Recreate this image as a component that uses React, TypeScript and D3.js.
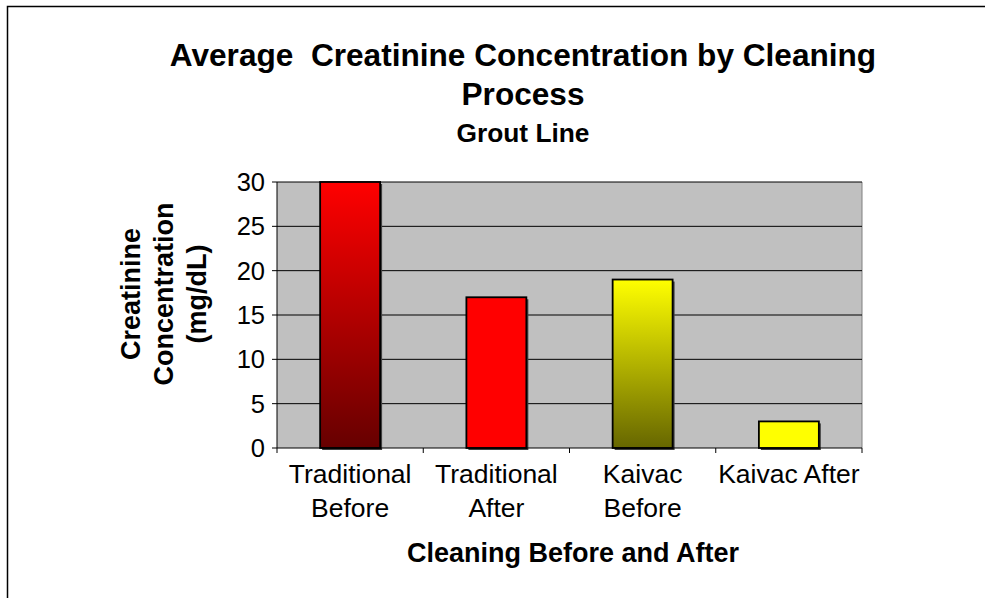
import React from 'react';
import * as d3 from 'd3';

const categories = ['Traditional Before', 'Traditional After', 'Kaivac Before', 'Kaivac After'];
const categoryLines = [['Traditional', 'Before'], ['Traditional', 'After'], ['Kaivac', 'Before'], ['Kaivac After']];
const values = [30, 17, 19, 3];
const yTicks = [0, 5, 10, 15, 20, 25, 30];
// top / bottom of each bar's fill
const barColors = [
  ['#FF0000', '#660000'],
  ['#FF0000', '#FF0000'],
  ['#FFFF00', '#666600'],
  ['#FFFF00', '#FFFF00'],
];

const FONT = 'Liberation Sans, Arial, Helvetica, sans-serif';

export default function App() {
  const left = 277, right = 862, top = 182, bottom = 448;

  const x = d3.scaleBand<string>()
    .domain(categories)
    .range([left, right])
    .paddingInner(0.59)
    .paddingOuter(0.295);
  const y = d3.scaleLinear().domain([0, 30]).range([bottom, top]);

  const step = x.step();
  const boundaries = d3.range(categories.length + 1).map(i => left + i * step);

  return (
    <svg width={985} height={598} style={{ position: 'absolute', left: 0, top: 0 }} fontFamily={FONT}>
      <defs>
        {barColors.map((c, i) => (
          <linearGradient key={i} id={'grad' + i} x1="0" y1="0" x2="0" y2="1">
            <stop offset="0%" stopColor={c[0]} />
            <stop offset="100%" stopColor={c[1]} />
          </linearGradient>
        ))}
      </defs>
      <rect x={0} y={0} width={985} height={598} fill="#fff" />
      <rect x={7.5} y={6.5} width={1100} height={700} fill="none" stroke="#000" strokeWidth={1.5} />

      {/* titles */}
      <text x={523} y={66} textAnchor="middle" fontSize={31.6} fontWeight="bold" style={{ whiteSpace: 'pre' }}>
        {'Average  Creatinine Concentration by Cleaning'}
      </text>
      <text x={523} y={105} textAnchor="middle" fontSize={31.6} fontWeight="bold">Process</text>
      <text x={523} y={142} textAnchor="middle" fontSize={26.3} fontWeight="bold">Grout Line</text>

      {/* plot area */}
      <rect x={left} y={top} width={right - left} height={bottom - top} fill="#C0C0C0" />
      <line x1={right} x2={right} y1={top} y2={bottom} stroke="#808080" strokeWidth={1} />
      {yTicks.map(t => (
        <g key={t}>
          {t > 0 && <line x1={left} x2={right} y1={y(t)} y2={y(t)} stroke="#000" strokeWidth={1} />}
          <line x1={left - 5} x2={left} y1={y(t)} y2={y(t)} stroke="#000" strokeWidth={1} />
          <text x={265} y={y(t) + 9} textAnchor="end" fontSize={25.5}>{t}</text>
        </g>
      ))}

      {/* bars */}
      {categories.map((c, i) => {
        const bx = x(c)!;
        const by = y(values[i]);
        const h = bottom - by;
        return (
          <g key={c}>
            <rect x={bx + 2} y={by + 2} width={x.bandwidth()} height={h} fill="#404040" />
            <rect x={bx} y={by} width={x.bandwidth()} height={h} fill={`url(#grad${i})`} stroke="#000" strokeWidth={1.8} />
          </g>
        );
      })}

      {/* axes */}
      <line x1={left} x2={left} y1={top} y2={bottom} stroke="#000" strokeWidth={1} />
      <line x1={left} x2={right} y1={bottom} y2={bottom} stroke="#000" strokeWidth={1} />
      {boundaries.map((b, i) => (
        <line key={i} x1={b} x2={b} y1={bottom} y2={bottom + 5} stroke="#000" strokeWidth={1} />
      ))}
      {categories.map((c, i) => (
        <text key={c} x={x(c)! + x.bandwidth() / 2} y={483} textAnchor="middle" fontSize={26.5}>
          {categoryLines[i].map((l, j) => (
            <tspan key={j} x={x(c)! + x.bandwidth() / 2} dy={j === 0 ? 0 : 34}>{l}</tspan>
          ))}
        </text>
      ))}

      <text x={573} y={562} textAnchor="middle" fontSize={27} fontWeight="bold">Cleaning Before and After</text>

      {['Creatinine', 'Concentration', '(mg/dL)'].map((l, i) => (
        <text key={l} transform={`translate(${140 + i * 33},294) rotate(-90)`} textAnchor="middle" fontSize={27} fontWeight="bold">
          {l}
        </text>
      ))}
    </svg>
  );
}
